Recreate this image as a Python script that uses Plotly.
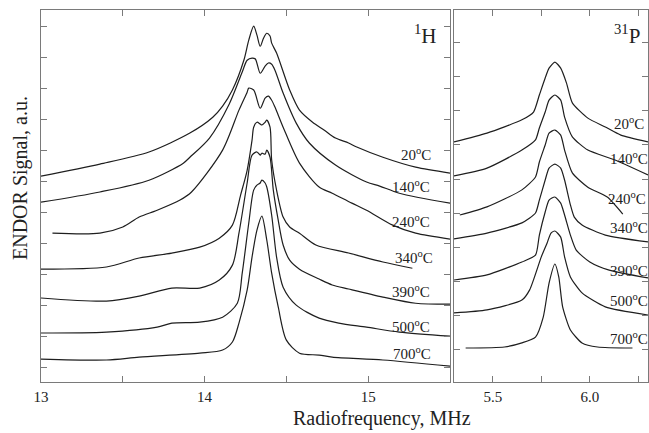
import plotly.graph_objects as go

# ---------------- 1H ENDOR (left panel), x in MHz, signal in a.u. ----------------
h_labels = ["20", "140", "240", "340", "390", "500", "700"]

h20_x = [13.00, 13.36, 13.66, 13.91, 14.05, 14.11, 14.17, 14.24, 14.27, 14.30, 14.32, 14.34, 14.36,
         14.38, 14.40, 14.41, 14.44, 14.52, 14.58, 14.66, 14.73, 14.80, 14.88, 14.93, 15.09, 15.29, 15.50]
h20_y = [6.16, 6.55, 6.94, 7.55, 8.06, 8.42, 8.94, 9.90, 10.55, 11.00, 10.71, 10.35, 10.61,
         10.77, 10.68, 10.45, 10.13, 8.94, 8.29, 7.90, 7.65, 7.39, 7.23, 7.10, 6.77, 6.45, 6.26]

h140_x = [13.00, 13.36, 13.66, 13.87, 13.91, 14.03, 14.15, 14.23, 14.26, 14.29, 14.31, 14.34, 14.37, 14.39,
          14.41, 14.43, 14.48, 14.56, 14.64, 14.80, 14.99, 15.07, 15.19, 15.50]
h140_y = [5.32, 5.65, 6.03, 6.58, 6.77, 7.39, 8.48, 9.52, 9.90, 9.97, 9.94, 9.48, 9.71, 9.81,
          9.77, 9.58, 8.84, 7.87, 7.23, 6.52, 5.97, 5.84, 5.61, 5.29]

h240_x = [13.07, 13.36, 13.50, 13.60, 13.71, 13.85, 13.92, 14.11, 14.21, 14.26, 14.27, 14.30, 14.34, 14.37,
          14.39, 14.41, 14.43, 14.48, 14.58, 14.70, 14.78, 14.90, 14.99, 15.15, 15.29, 15.50]
h240_y = [4.32, 4.32, 4.52, 4.84, 5.06, 5.39, 5.65, 7.00, 8.29, 8.87, 9.00, 8.94, 8.35, 8.68,
          8.74, 8.61, 8.39, 7.74, 6.58, 5.81, 5.61, 5.29, 5.06, 4.58, 4.32, 4.13]

h340_x = [13.00, 13.40, 13.60, 13.80, 13.97, 14.09, 14.17, 14.22, 14.26, 14.29, 14.30, 14.32, 14.34, 14.35,
          14.37, 14.38, 14.40, 14.41, 14.44, 14.48, 14.52, 14.58, 14.68, 14.88, 15.09, 15.27]
h340_y = [3.16, 3.23, 3.52, 3.68, 3.87, 4.16, 4.58, 5.55, 6.35, 7.32, 7.74, 7.90, 7.84, 7.81,
          7.90, 7.97, 7.74, 6.68, 5.71, 4.84, 4.52, 4.32, 3.94, 3.68, 3.39, 3.19]

h390_x = [13.00, 13.40, 13.60, 13.80, 13.97, 14.09, 14.17, 14.21, 14.26, 14.29, 14.32, 14.34, 14.35, 14.37,
          14.38, 14.40, 14.42, 14.45, 14.48, 14.52, 14.58, 14.70, 14.78, 14.88, 15.09, 15.29, 15.50]
h390_y = [2.23, 2.13, 2.29, 2.55, 2.55, 2.81, 3.29, 4.32, 5.94, 6.84, 6.94, 6.84, 6.90, 6.87,
          7.00, 6.77, 5.71, 4.74, 3.94, 3.45, 3.16, 2.84, 2.65, 2.52, 2.26, 2.06, 2.03]

h500_x = [13.00, 13.40, 13.71, 13.80, 13.97, 14.11, 14.20, 14.23, 14.27, 14.30, 14.32, 14.34, 14.35, 14.37,
          14.38, 14.41, 14.44, 14.48, 14.56, 14.70, 14.82, 14.99, 15.19, 15.50]
h500_y = [1.10, 1.13, 1.29, 1.42, 1.45, 1.61, 2.06, 3.03, 4.65, 5.71, 5.87, 5.94, 6.03, 5.94,
          5.81, 4.90, 3.55, 2.58, 2.00, 1.58, 1.42, 1.29, 1.13, 1.00]

h700_x = [13.00, 13.40, 13.60, 13.97, 14.11, 14.17, 14.21, 14.26, 14.29, 14.32, 14.35, 14.38, 14.41, 14.45,
          14.50, 14.58, 14.70, 14.78, 15.09, 15.50]
h700_y = [0.26, 0.23, 0.32, 0.45, 0.55, 0.81, 1.42, 2.48, 3.55, 4.42, 4.87, 4.10, 3.03, 1.94,
          0.87, 0.45, 0.39, 0.32, 0.23, 0.03]

h_label_x = [15.29, 15.26, 15.26, 15.28, 15.26, 15.26, 15.27]
h_label_y = [6.87, 5.84, 4.71, 3.55, 2.45, 1.32, 0.45]

# ---------------- 31P ENDOR (right panel) ----------------
p20_x = [5.30, 5.47, 5.65, 5.71, 5.74, 5.77, 5.79, 5.82, 5.85, 5.88, 5.91, 5.99, 6.08, 6.16, 6.30]
p20_y = [6.09, 6.35, 6.74, 6.97, 7.47, 7.97, 8.26, 8.44, 8.26, 7.82, 7.24, 6.79, 6.53, 6.29, 6.09]

p140_x = [5.30, 5.47, 5.65, 5.72, 5.74, 5.77, 5.79, 5.82, 5.85, 5.87, 5.91, 5.99, 6.13, 6.30]
p140_y = [5.09, 5.32, 5.85, 6.15, 6.50, 6.97, 7.32, 7.47, 7.32, 6.82, 6.24, 5.85, 5.56, 5.12]

p240_x = [5.33, 5.47, 5.65, 5.72, 5.74, 5.77, 5.79, 5.82, 5.85, 5.87, 5.91, 5.99, 6.09, 6.17]
p240_y = [3.94, 4.18, 4.68, 5.06, 5.50, 6.00, 6.35, 6.44, 6.29, 5.85, 5.18, 4.76, 4.47, 3.97]

p340_x = [5.30, 5.47, 5.65, 5.72, 5.74, 5.77, 5.79, 5.82, 5.85, 5.87, 5.90, 5.92, 5.96, 6.08, 6.30]
p340_y = [3.24, 3.41, 3.71, 4.00, 4.38, 4.97, 5.32, 5.44, 5.32, 4.97, 4.24, 3.88, 3.65, 3.35, 3.15]

p390_x = [5.30, 5.47, 5.65, 5.72, 5.74, 5.77, 5.79, 5.82, 5.85, 5.87, 5.90, 5.93, 6.00, 6.10, 6.30]
p390_y = [2.03, 2.18, 2.56, 2.76, 3.35, 4.03, 4.38, 4.47, 4.29, 3.94, 3.35, 2.91, 2.56, 2.32, 2.09]

p500_x = [5.30, 5.47, 5.65, 5.69, 5.75, 5.78, 5.80, 5.82, 5.85, 5.87, 5.90, 5.96, 6.08, 6.30]
p500_y = [1.06, 1.15, 1.44, 1.74, 2.71, 3.12, 3.41, 3.47, 3.29, 2.71, 2.12, 1.65, 1.24, 1.00]

p700_x = [5.36, 5.56, 5.65, 5.72, 5.76, 5.79, 5.82, 5.84, 5.86, 5.90, 5.96, 6.04, 6.22]
p700_y = [0.03, 0.06, 0.18, 0.35, 0.94, 1.94, 2.50, 2.12, 1.24, 0.56, 0.18, 0.06, 0.03]

p_label_x = [6.20, 6.20, 6.19, 6.20, 6.20, 6.20, 6.20]
p_label_y = [6.65, 5.62, 4.44, 3.59, 2.32, 1.44, 0.32]

# tick values
h_xticks = [13.0, 13.5, 14.0, 14.5, 15.0]
h_xtext = ["13", " ", "14", " ", "15"]
p_xticks = [5.5, 5.75, 6.0, 6.25]
p_xtext = ["5.5", " ", "6.0", " "]
h_yticks = list(range(0, 12))
p_yticks = list(range(0, 10))

LINE = "#1e1e1e"
FRAME = "#7a7a7a"
FONT = "Liberation Serif"

fig = go.Figure()
h_series = [(h20_x, h20_y), (h140_x, h140_y), (h240_x, h240_y), (h340_x, h340_y),
            (h390_x, h390_y), (h500_x, h500_y), (h700_x, h700_y)]
p_series = [(p20_x, p20_y), (p140_x, p140_y), (p240_x, p240_y), (p340_x, p340_y),
            (p390_x, p390_y), (p500_x, p500_y), (p700_x, p700_y)]

for xs, ys in h_series:
    fig.add_trace(go.Scatter(x=xs, y=ys, mode="lines", xaxis="x", yaxis="y",
                             line=dict(color=LINE, width=1.2, shape="spline", smoothing=0.8),
                             showlegend=False, hoverinfo="skip"))
for xs, ys in p_series:
    fig.add_trace(go.Scatter(x=xs, y=ys, mode="lines", xaxis="x2", yaxis="y2",
                             line=dict(color=LINE, width=1.2, shape="spline", smoothing=0.6),
                             showlegend=False, hoverinfo="skip"))

ann = []
for lab, lx, ly in zip(h_labels, h_label_x, h_label_y):
    ann.append(dict(x=lx, y=ly, xref="x", yref="y", text=lab + "<sup>o</sup>C", showarrow=False,
                    xanchor="center", yanchor="middle", font=dict(family=FONT, size=15, color="#222")))
for lab, lx, ly in zip(h_labels, p_label_x, p_label_y):
    ann.append(dict(x=lx, y=ly, xref="x2", yref="y2", text=lab + "<sup>o</sup>C", showarrow=False,
                    xanchor="center", yanchor="middle", font=dict(family=FONT, size=15, color="#222")))

ann.append(dict(x=425 / 649, y=1 - 35 / 433, xref="paper", yref="paper", text="<sup>1</sup>H",
                showarrow=False, xanchor="center", yanchor="middle",
                font=dict(family=FONT, size=21, color="#222")))
ann.append(dict(x=627 / 649, y=1 - 35 / 433, xref="paper", yref="paper", text="<sup>31</sup>P",
                showarrow=False, xanchor="center", yanchor="middle",
                font=dict(family=FONT, size=21, color="#222")))
ann.append(dict(x=382 / 649, y=1 - 418 / 433, xref="paper", yref="paper", text="Radiofrequency, MHz",
                showarrow=False, xanchor="center", yanchor="middle",
                font=dict(family=FONT, size=20, color="#222")))
ann.append(dict(x=20 / 649, y=1 - 178 / 433, xref="paper", yref="paper", text="ENDOR Signal, a.u.",
                showarrow=False, xanchor="center", yanchor="middle", textangle=-90,
                font=dict(family=FONT, size=20, color="#222")))

ydom = [1 - 382 / 433, 1 - 10 / 433]
axis_common = dict(showline=True, linecolor=FRAME, linewidth=1.3, mirror="ticks", ticks="inside",
                   ticklen=6, tickcolor=FRAME, tickwidth=1, showgrid=False, zeroline=False,
                   automargin=False,
                   tickfont=dict(family=FONT, size=15, color="#222"))

fig.update_layout(
    width=649, height=433,
    margin=dict(l=0, r=0, t=0, b=0, pad=0),
    paper_bgcolor="white", plot_bgcolor="white",
    xaxis=dict(domain=[41 / 649, 450 / 649], range=[13.0, 15.5], tickmode="array",
               tickvals=h_xticks, ticktext=h_xtext, anchor="y", ticklabelstandoff=1, **axis_common),
    yaxis=dict(domain=ydom, range=[-0.48, 11.52], tickmode="array", tickvals=h_yticks,
               showticklabels=False, anchor="x", **axis_common),
    xaxis2=dict(domain=[454 / 649, 648 / 649], range=[5.30, 6.30], tickmode="array",
                tickvals=p_xticks, ticktext=p_xtext, anchor="y2", ticklabelstandoff=1, **axis_common),
    yaxis2=dict(domain=ydom, range=[-0.97, 9.97], tickmode="array", tickvals=p_yticks,
                showticklabels=False, anchor="x2", **axis_common),
    annotations=ann,
)

fig.write_html("out.html", config={"displayModeBar": False},
               post_script="document.body.style.margin='0px';document.body.style.overflow='hidden';")
